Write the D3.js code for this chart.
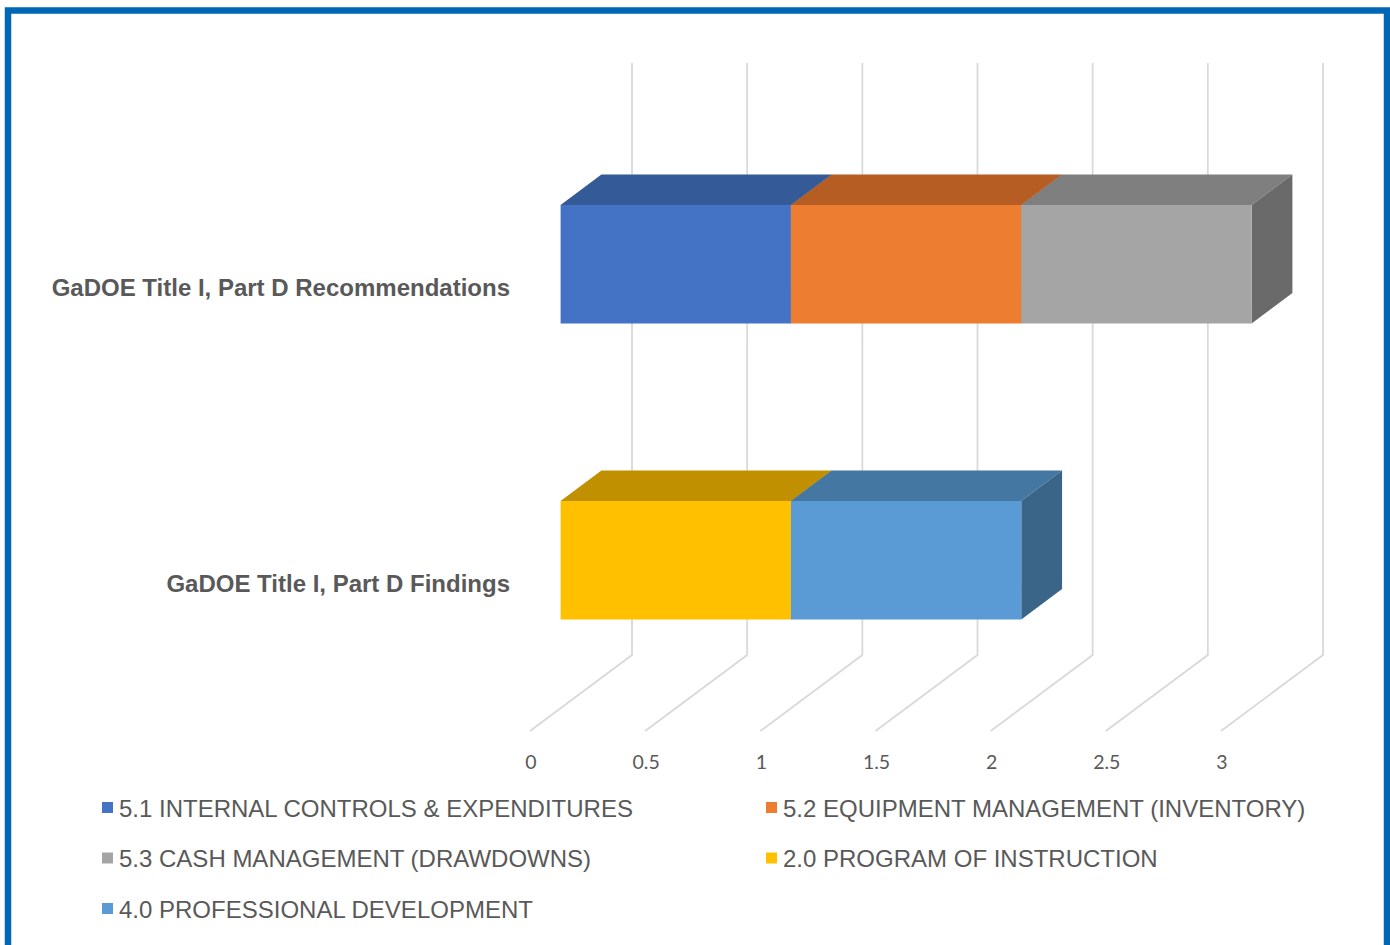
<!DOCTYPE html>
<html>
<head>
<meta charset="utf-8">
<script src="https://cdn.jsdelivr.net/npm/d3@7"></script>
<style>
html,body{margin:0;padding:0;background:#fff;}
svg{display:block;}
</style>
</head>
<body>
<svg id="chart" width="1390" height="945"></svg>
<script>
// ---- data ----
const categories = ["GaDOE Title I, Part D Recommendations", "GaDOE Title I, Part D Findings"];
const seriesNames = [
  "5.1 INTERNAL CONTROLS & EXPENDITURES",
  "5.2 EQUIPMENT MANAGEMENT (INVENTORY)",
  "5.3 CASH MANAGEMENT (DRAWDOWNS)",
  "2.0 PROGRAM OF INSTRUCTION",
  "4.0 PROFESSIONAL DEVELOPMENT"
];
const recommendationsValues = [1, 1, 1, 0, 0];
const findingsValues = [0, 0, 0, 1, 1];
const tickValues = [0, 0.5, 1, 1.5, 2, 2.5, 3];

// ---- styles ----
const frontColors = ["#4472C4", "#ED7D31", "#A5A5A5", "#FFC000", "#5B9BD5"];
const topColors   = ["#345A98", "#B55D22", "#7F7F7F", "#C09000", "#4577A3"];
const sideColors  = ["#2B4C85", "#9E5220", "#6A6A6A", "#A87D00", "#3A6488"];

const svg = d3.select("#chart");

// table for d3.stack
const valuesByCat = [recommendationsValues, findingsValues];
const table = categories.map((c, ci) => {
  const row = {category: c};
  seriesNames.forEach((s, si) => row[s] = valuesByCat[ci][si]);
  return row;
});
const stacked = d3.stack().keys(seriesNames)(table);

// projection
const DX = 102, DY = 76;       // full depth offset
const zF = 0.3, zB = 0.7;      // bar depth range
const x = d3.scaleLinear().domain([0, 3]).range([530, 1221]);
const y = d3.scaleBand().domain(categories).range([139, 731]).paddingInner(0.6).paddingOuter(0.3);
const yTop = 139, yBot = 731;
const P = (v, yy, z) => [x(v) + z * DX, yy - z * DY];

// border
svg.append("rect").attr("x", 8).attr("y", 10.5).attr("width", 1379).attr("height", 960)
  .attr("fill", "none").attr("stroke", "#0067B4").attr("stroke-width", 6.5);

// gridlines (back wall + floor)
const grid = svg.append("g").attr("stroke", "#D9D9D9").attr("stroke-width", 1.8).attr("fill", "none");
tickValues.forEach(v => {
  const a = P(v, yTop, 1), b = P(v, yBot, 1), c = P(v, yBot, 0);
  grid.append("path").attr("d", `M${a[0]},${a[1]}L${b[0]},${b[1]}L${c[0]},${c[1]}`);
});

// tick labels
svg.append("g").selectAll("text").data(tickValues).join("text")
  .attr("x", d => x(d) + 1).attr("y", 769)
  .attr("text-anchor", "middle")
  .attr("font-family", "Lato, 'Open Sans', sans-serif").attr("font-size", 19.5)
  .attr("fill", "#595959")
  .text(d => d);

// bars
const bars = svg.append("g");
categories.forEach((cat, ci) => {
  const y0 = y(cat), y1 = y(cat) + y.bandwidth();
  stacked.forEach((layer, si) => {
    const d = layer[ci];
    const v0 = d[0], v1 = d[1];
    if (v1 - v0 <= 0) return;
    const ftl = P(v0, y0, zF), ftr = P(v1, y0, zF), fbr = P(v1, y1, zF), fbl = P(v0, y1, zF);
    const btl = P(v0, y0, zB), btr = P(v1, y0, zB), bbr = P(v1, y1, zB);
    const poly = pts => "M" + pts.map(p => p.join(",")).join("L") + "Z";
    bars.append("path").attr("d", poly([ftl, ftr, btr, btl])).attr("fill", topColors[si]);
    bars.append("path").attr("d", poly([ftr, btr, bbr, fbr])).attr("fill", sideColors[si]);
    bars.append("path").attr("d", poly([ftl, ftr, fbr, fbl])).attr("fill", frontColors[si]);
  });
});

// category labels
svg.append("g").selectAll("text").data(categories).join("text")
  .attr("x", 510).attr("y", d => y(d) + y.bandwidth() / 2)
  .attr("dy", "0.36em")
  .attr("text-anchor", "end")
  .attr("font-family", "'Liberation Sans', Arial, sans-serif")
  .attr("font-weight", "bold").attr("font-size", 24)
  .attr("fill", "#595959")
  .text(d => d);

// legend
const legend = svg.append("g");
seriesNames.forEach((s, i) => {
  const col = i % 2, row = Math.floor(i / 2);
  const lx = col === 0 ? 102 : 766;
  const ly = 808 + row * 50.5;
  legend.append("rect").attr("x", lx).attr("y", ly - 6).attr("width", 11).attr("height", 11)
    .attr("fill", frontColors[i]);
  legend.append("text").attr("x", lx + 17).attr("y", ly).attr("dy", "0.36em")
    .attr("font-family", "'Liberation Sans', Arial, sans-serif").attr("font-size", 24)
    .attr("fill", "#595959").text(s);
});
</script>
</body>
</html>
